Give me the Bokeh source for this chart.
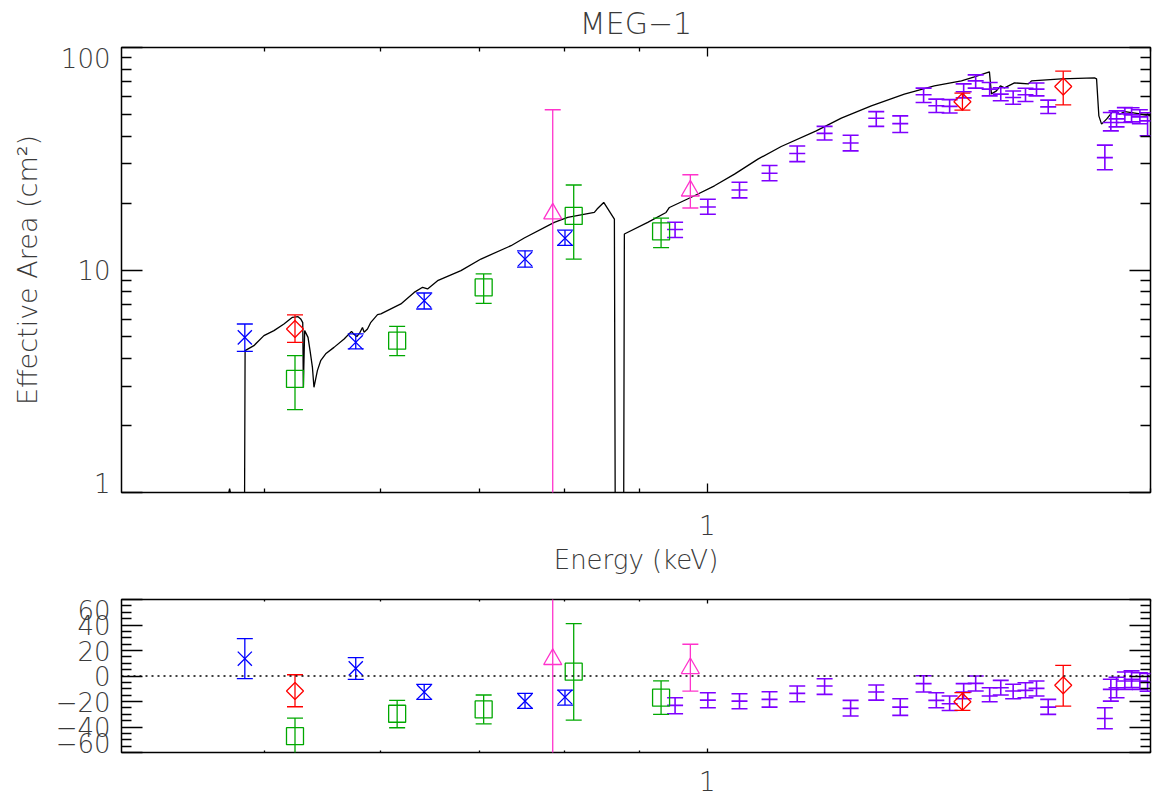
from bokeh.plotting import figure
from bokeh.layouts import column
from bokeh.models import (Range1d, FixedTicker, LogAxis, LinearAxis, Span, Title,
                          ColumnDataSource)
from bokeh.embed import file_html
from bokeh.resources import INLINE

# ---------------------------------------------------------------- data
# model effective-area curve (energy in keV, area in cm^2)
model_energy = [
    0.400, 0.4714, 0.4737, 0.4759, 0.4849, 0.4853, 0.4920, 0.4998, 0.5077, 0.5157,
    0.5226, 0.5272, 0.5294, 0.5311, 0.5316, 0.5327, 0.5355, 0.5372, 0.5392, 0.5405,
    0.5434, 0.5462, 0.5505, 0.5577, 0.5666, 0.5732, 0.5750, 0.5780, 0.5809, 0.5831,
    0.5846, 0.5877, 0.5908, 0.5970, 0.6001, 0.6192, 0.6322, 0.6406, 0.6456, 0.6558,
    0.6802, 0.7018, 0.7356, 0.7510, 0.7871, 0.8038, 0.8380, 0.8416, 0.8504, 0.8647,
    0.8660, 0.8772, 0.8783, 0.9110, 0.9375, 0.9424, 0.9800, 1.0112, 1.0434, 1.0823,
    1.1225, 1.1857, 1.2331, 1.2923, 1.3609, 1.4263, 1.4880, 1.5186, 1.5546, 1.5595,
    1.5718, 1.5816, 1.5916, 1.6167, 1.6526, 1.6603, 1.7402, 1.8324, 1.8382, 1.8448,
    1.8526, 1.8671, 1.8868, 1.8966, 1.9064, 1.9214, 1.9416, 1.9621, 1.9825, 2.0000,
]
model_area = [
    0.60, 0.90, 1.04, 0.90, 0.92, 4.34, 4.57, 5.07, 5.34, 5.72,
    6.13, 6.17, 6.03, 5.80, 2.97, 5.34, 4.98, 4.34, 3.65, 2.97,
    3.53, 3.91, 4.20, 4.49, 4.90, 5.30, 5.16, 5.02, 5.25, 5.52,
    5.25, 5.43, 5.82, 6.30, 6.35, 7.04, 7.93, 8.36, 8.22, 8.95,
    9.93, 11.2, 12.86, 13.92, 16.36, 17.23, 18.14, 18.79, 20.12, 16.94,
    0.50, 0.50, 14.51, 16.36, 18.14, 19.10, 21.56, 23.90, 26.98, 31.50,
    35.89, 42.22, 48.14, 54.67, 61.71, 67.24, 70.79, 73.79, 77.70, 61.90,
    63.85, 67.24, 65.86, 69.34, 68.63, 70.79, 72.28, 73.04, 72.30, 49.30,
    45.24, 47.64, 51.92, 51.55, 50.18, 51.55, 51.02, 50.49, 49.82, 49.30,
]

# blue crosses
blue_energy = [0.4851, 0.5770, 0.6422, 0.7519, 0.8004]
blue_area = [4.98, 4.73, 7.28, 11.2, 13.9]
blue_area_lo = [4.31, 4.42, 6.68, 10.3, 12.9]
blue_area_hi = [5.72, 5.16, 7.88, 12.2, 15.1]
blue_resid = [13.6, 6.0, -12.6, -19.7, -16.5]
blue_resid_lo = [-2.1, -2.6, -18.3, -25.4, -22.8]
blue_resid_hi = [29.3, 14.4, -6.5, -13.6, -11.0]

# red diamonds
red_energy = [0.5247, 1.4903, 1.7448]
red_area = [5.43, 57.0, 66.8]
red_area_lo = [4.73, 52.3, 55.2]
red_area_hi = [6.28, 62.4, 78.3]
red_resid = [-11.8, -20.2, -7.3]
red_resid_lo = [-24.1, -27.0, -23.6]
red_resid_hi = [1.0, -13.1, 8.4]

# green squares
green_energy = [0.5247, 0.6156, 0.7048, 0.8114, 0.9302]
green_area = [3.24, 4.81, 8.35, 17.5, 14.9]
green_area_lo = [2.36, 4.12, 7.08, 11.2, 12.6]
green_area_hi = [4.12, 5.58, 9.60, 24.1, 17.1]
green_resid = [-47.2, -29.6, -26.2, 3.4, -17.0]
green_resid_lo = [-62.0, -40.6, -37.5, -34.6, -30.1]
green_resid_hi = [-33.0, -19.1, -14.9, 41.1, -3.9]

# magenta triangles
magenta_energy = [0.7852, 0.9738]
magenta_area = [17.9, 22.7]
magenta_area_lo = [0.1, 19.0]
magenta_area_hi = [52.5, 26.8]
magenta_resid = [13.1, 6.0]
magenta_resid_lo = [-150.0, -11.8]
magenta_resid_hi = [150.0, 24.9]

# purple points (plain error bars)
purple_energy = [
    0.9508, 1.0008, 1.0516, 1.1022, 1.1510, 1.2013, 1.2512, 1.3024, 1.3522, 1.4025,
    1.4307, 1.4608, 1.4932, 1.5215, 1.5552, 1.5824, 1.6134, 1.6448, 1.6734, 1.7043,
    1.8622, 1.8797, 1.8966, 1.9214, 1.9416, 1.9670, 1.9909,
]
purple_area = [
    15.2, 19.2, 22.9, 27.2, 33.4, 41.1, 37.2, 48.1, 45.5, 61.3,
    54.7, 54.4, 63.3, 70.8, 65.0, 61.7, 59.6, 61.3, 65.0, 54.1,
    32.0, 46.0, 47.8, 50.3, 49.8, 48.8, 46.8,
]
purple_area_lo = [
    14.0, 17.8, 21.1, 25.2, 30.7, 38.4, 34.3, 44.2, 41.5, 56.6,
    51.0, 50.8, 59.4, 65.7, 60.6, 57.6, 55.6, 57.2, 60.6, 50.5,
    28.2, 42.2, 44.0, 46.0, 46.3, 45.4, 40.1,
]
purple_area_hi = [
    16.4, 20.8, 24.8, 29.5, 36.1, 44.2, 40.3, 51.5, 49.3, 65.7,
    58.6, 58.3, 68.6, 75.3, 69.6, 65.9, 63.8, 65.6, 69.3, 58.0,
    36.4, 51.0, 51.9, 53.7, 53.6, 52.5, 50.9,
]
purple_resid = [
    -23.0, -18.9, -19.7, -18.3, -13.6, -7.9, -25.4, -12.6, -24.4, -6.0,
    -19.1, -21.8, -12.6, -5.8, -15.7, -9.2, -11.8, -11.3, -9.7, -24.4,
    -33.3, -10.5, -9.2, -3.9, -2.6, -3.9, -4.7,
]
purple_resid_lo = [
    -29.6, -24.9, -25.7, -24.4, -20.2, -14.4, -31.4, -18.9, -30.9, -12.6,
    -24.9, -27.0, -17.8, -11.8, -20.2, -14.9, -17.8, -17.0, -15.7, -30.1,
    -41.4, -19.7, -17.0, -10.5, -9.0, -10.5, -12.0,
]
purple_resid_hi = [
    -17.0, -13.1, -13.9, -12.3, -7.9, -2.1, -19.1, -7.1, -17.8, 0.2,
    -13.1, -15.7, -6.0, 0.0, -9.2, -3.4, -6.5, -5.3, -3.9, -18.3,
    -24.9, -2.6, -1.0, 3.1, 4.0, 2.5, 2.0,
]

# axes
energy_range = (0.4, 2.0)
area_range = (1.0, 100.0)
resid_range = (-60.0, 60.0)
energy_ticks = [1.0]
energy_minor = [0.5, 0.6, 0.7, 0.8, 0.9, 2.0]
energy_tick_labels = ["1"]
area_ticks = [1.0, 10.0, 100.0]
area_minor = [2, 3, 4, 5, 6, 7, 8, 9, 20, 30, 40, 50, 60, 70, 80, 90]
area_tick_labels = ["1", "10", "100"]
resid_ticks = [-60, -40, -20, 0, 20, 40, 60]
resid_minor = [-55, -50, -45, -35, -30, -25, -15, -10, -5,
               5, 10, 15, 25, 30, 35, 45, 50, 55]
resid_tick_labels = ["\u221260", "\u221240", "\u221220", "0", "20", "40", "60"]

# ---------------------------------------------------------------- style
FONT = "DejaVu Sans Light, DejaVu Sans"
INK = "#3a3a3a"
LW = 1.3
CAP = 16
TOP_FRAME_H = 445     # pixel height of the upper frame
BOT_FRAME_H = 153     # pixel height of the lower frame
EDGE_SHIFT = 10       # end tick labels sit this many pixels inside the frame


def style_ticks(ax, major_len, minor_len):
    ax.major_tick_in = major_len
    ax.major_tick_out = 0
    ax.minor_tick_in = minor_len
    ax.minor_tick_out = 0
    ax.axis_line_color = None
    ax.major_tick_line_color = "black"
    ax.minor_tick_line_color = "black"
    ax.major_tick_line_width = 1.3
    ax.minor_tick_line_width = 1.3


def hide_labels(ax):
    ax.major_label_text_color = None
    ax.major_label_text_font_size = "0px"
    ax.major_label_standoff = 0


def make_panel(height, y_log, y_range, y_ticks, y_minor, x_lens, y_lens, borders):
    p = figure(width=1155, height=height, title=None,
               x_axis_type="log", y_axis_type="log" if y_log else "linear",
               x_range=Range1d(*energy_range), y_range=Range1d(*y_range),
               output_backend="svg", toolbar_location=None,
               min_border_left=121, min_border_right=5,
               min_border_top=borders[0], min_border_bottom=borders[1])
    p.add_layout(LogAxis(), "above")
    p.add_layout(LogAxis() if y_log else LinearAxis(), "right")
    for ax in p.xaxis:
        ax.ticker = FixedTicker(ticks=energy_ticks, minor_ticks=energy_minor)
        style_ticks(ax, *x_lens)
        hide_labels(ax)
    for ax in p.yaxis:
        ax.ticker = FixedTicker(ticks=y_ticks, minor_ticks=y_minor)
        style_ticks(ax, *y_lens)
        hide_labels(ax)
    # labelled energy axis at the bottom
    bx = p.below[0]
    bx.major_label_text_color = INK
    bx.major_label_text_font = FONT
    bx.major_label_text_font_size = "26px"
    bx.major_label_overrides = dict(zip(energy_ticks, energy_tick_labels))
    p.grid.visible = False
    p.outline_line_color = "black"
    p.outline_line_width = 1.5
    p.background_fill_color = "white"
    p.border_fill_color = "white"
    return p


def value_labels(p, y_log, ticks, labels, shift_units, axis_label=None):
    """Outer left axis carrying only the value labels; the end labels are
    nudged inwards so they stay inside the frame's vertical extent."""
    pos = []
    for t in ticks:
        if t == ticks[-1]:
            pos.append(t / shift_units if y_log else t - shift_units)
        elif t == ticks[0]:
            pos.append(t * shift_units if y_log else t + shift_units)
        else:
            pos.append(t)
    ax = (LogAxis if y_log else LinearAxis)(
        ticker=FixedTicker(ticks=pos, minor_ticks=[]),
        major_label_overrides=dict(zip(pos, labels)))
    ax.axis_line_color = None
    ax.major_tick_line_color = None
    ax.minor_tick_line_color = None
    ax.major_tick_in = 0
    ax.major_tick_out = 0
    ax.major_label_standoff = 11
    ax.major_label_text_font = FONT
    ax.major_label_text_font_size = "26px"
    ax.major_label_text_color = INK
    if axis_label:
        ax.axis_label = axis_label
        ax.axis_label_text_font = FONT
        ax.axis_label_text_font_size = "27px"
        ax.axis_label_text_font_style = "normal"
        ax.axis_label_text_color = INK
        ax.axis_label_standoff = 15
    p.add_layout(ax, "left")


top = make_panel(582, True, area_range, area_ticks, area_minor, (9, 4), (21, 10), (47, 90))
bot = make_panel(213, False, resid_range, resid_ticks, resid_minor, (4, 2), (21, 10), (17, 43))

top.below[0].major_label_standoff = 22
top.below[0].axis_label = "Energy (keV)"
top.below[0].axis_label_text_font = FONT
top.below[0].axis_label_text_font_size = "26px"
top.below[0].axis_label_text_font_style = "normal"
top.below[0].axis_label_text_color = INK
top.below[0].axis_label_standoff = 7
bot.below[0].major_label_standoff = 18

decades = 2.0
value_labels(top, True, area_ticks, area_tick_labels,
             10 ** (EDGE_SHIFT * decades / TOP_FRAME_H),
             axis_label="Effective Area (cm\u00b2)")
value_labels(bot, False, resid_ticks, resid_tick_labels,
             EDGE_SHIFT * (resid_range[1] - resid_range[0]) / BOT_FRAME_H)

top.title = Title(text="MEG\u22121", align="center", vertical_align="top",
                  text_font=FONT, text_font_size="30px", text_font_style="normal",
                  text_color=INK, standoff=10)

# zero reference for the residuals
bot.add_layout(Span(location=0, dimension="width", line_color="black",
                    line_dash="2 4", line_width=1.3))

# model curve
top.line(model_energy, model_area, line_color="black", line_width=1.3)


def draw_series(energy, area, area_lo, area_hi, resid, resid_lo, resid_hi,
                color, marker, size, angle=0.0, lw=LW):
    src = ColumnDataSource(dict(energy=energy, area=area, area_lo=area_lo,
                                area_hi=area_hi, resid=resid, resid_lo=resid_lo,
                                resid_hi=resid_hi))
    for p, yc, lo, hi in ((top, "area", "area_lo", "area_hi"),
                          (bot, "resid", "resid_lo", "resid_hi")):
        p.segment(x0="energy", y0=lo, x1="energy", y1=hi, source=src,
                  line_color=color, line_width=lw)
        for edge in (lo, hi):
            p.scatter(x="energy", y=edge, source=src, marker="dash", size=CAP,
                      line_color=color, line_width=lw)
        p.scatter(x="energy", y=yc, source=src, marker=marker, size=size,
                  angle=angle, fill_color=None, line_color=color, line_width=lw)


draw_series(purple_energy, purple_area, purple_area_lo, purple_area_hi,
            purple_resid, purple_resid_lo, purple_resid_hi,
            "#7f00ff", "dash", 16, lw=1.6)
draw_series(green_energy, green_area, green_area_lo, green_area_hi,
            green_resid, green_resid_lo, green_resid_hi,
            "#00a800", "square", 17)
draw_series(blue_energy, blue_area, blue_area_lo, blue_area_hi,
            blue_resid, blue_resid_lo, blue_resid_hi,
            "#0000ff", "x", 20)
draw_series(red_energy, red_area, red_area_lo, red_area_hi,
            red_resid, red_resid_lo, red_resid_hi,
            "#ff0000", "square", 12, angle=0.785398)
draw_series(magenta_energy, magenta_area, magenta_area_lo, magenta_area_hi,
            magenta_resid, magenta_resid_lo, magenta_resid_hi,
            "#ff33cc", "triangle", 18)

layout = column(top, bot)
open("out.html", "w").write(file_html(layout, INLINE))
